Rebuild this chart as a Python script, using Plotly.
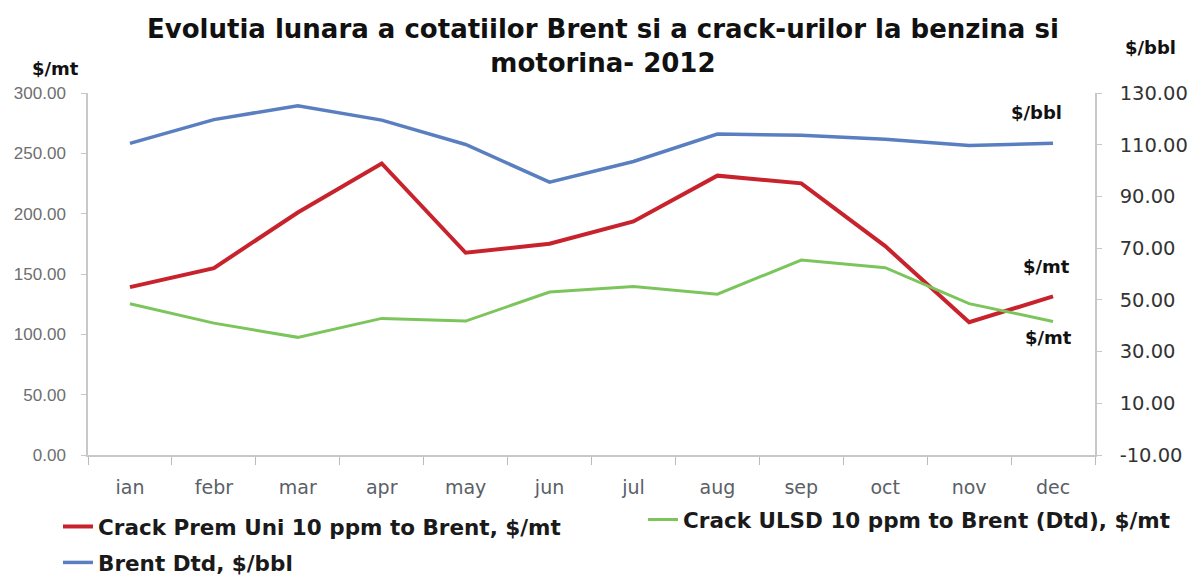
import plotly.graph_objects as go

months = ["ian", "febr", "mar", "apr", "may", "jun", "jul", "aug", "sep", "oct", "nov", "dec"]
crack_prem = [139.1, 154.9, 201.0, 241.6, 167.6, 175.1, 193.6, 231.5, 225.1, 173.1, 110.1, 131.4]
crack_ulsd = [125.4, 109.3, 97.5, 113.2, 111.0, 135.0, 139.7, 133.3, 161.5, 155.2, 125.4, 110.7]
brent = [110.5, 119.7, 125.1, 119.5, 110.1, 95.5, 103.5, 114.1, 113.7, 112.1, 109.7, 110.6]

left_ticks = [0, 50, 100, 150, 200, 250, 300]
right_ticks = [-10, 10, 30, 50, 70, 90, 110, 130]

RED = "#c8232c"
GREEN = "#7cc55c"
BLUE = "#5a7fc0"
BOLD = "DejaVu Sans"

fig = go.Figure()
fig.add_trace(go.Scatter(x=months, y=crack_prem, mode="lines", name="Crack Prem Uni 10 ppm to Brent, $/mt",
                         line=dict(color=RED, width=4), legend="legend", legendgroup="a"))
fig.add_trace(go.Scatter(x=months, y=crack_ulsd, mode="lines", name="Crack ULSD 10 ppm to Brent (Dtd), $/mt",
                         line=dict(color=GREEN, width=3), legend="legend2"))
fig.add_trace(go.Scatter(x=months, y=brent, mode="lines", name="Brent Dtd, $/bbl",
                         line=dict(color=BLUE, width=3.5), yaxis="y2", legend="legend", legendgroup="b"))

L, R, T, B = 88, 101, 93, 121
W, H = 1196, 576
pw, ph = W - L - R, H - T - B

def px(x):
    return (x - L) / pw

def py(y):
    return (H - B - y) / ph

leg_font = dict(family=BOLD, size=21.5, color="#1a1a1a", weight="bold")

fig.update_layout(
    width=W, height=H,
    margin=dict(l=L, r=R, t=T, b=B, autoexpand=False),
    paper_bgcolor="white", plot_bgcolor="white",
    showlegend=True,
    xaxis=dict(type="category", range=[-0.5, 11.5], tickson="boundaries", ticks="outside", ticklen=8,
               tickcolor="#bbbbbb", showline=True, linecolor="#c8c8c8", linewidth=1.5, showgrid=False,
               zeroline=False, ticklabelstandoff=14,
               tickfont=dict(family="DejaVu Sans", size=19, color="#5a6066")),
    yaxis=dict(range=[0, 300], tickvals=left_ticks, ticktext=[f"{v:.2f}" for v in left_ticks],
               ticks="outside", ticklen=5, tickcolor="#c8c8c8", showline=True, linecolor="#c8c8c8",
               linewidth=1.5, showgrid=False, zeroline=False, ticklabelstandoff=12,
               tickfont=dict(family="Liberation Sans Narrow, Liberation Sans", size=17, color="#6e6e6e")),
    yaxis2=dict(range=[-10, 130], tickvals=right_ticks, ticktext=[f"{v:.2f}" for v in right_ticks],
                overlaying="y", side="right", ticks="outside", ticklen=5, tickcolor="#c8c8c8",
                showline=True, linecolor="#c8c8c8", linewidth=1.5, showgrid=False, zeroline=False,
                ticklabelstandoff=14,
                tickfont=dict(family="DejaVu Sans", size=19.5, color="#333333")),
    legend=dict(orientation="v", x=px(58), xanchor="left", y=py(506), yanchor="top",
                font=leg_font, bgcolor="rgba(0,0,0,0)",
                tracegroupgap=5, traceorder="grouped"),
    legend2=dict(orientation="v", x=px(643), xanchor="left", y=py(499), yanchor="top",
                 font=leg_font, bgcolor="rgba(0,0,0,0)"),
)

# title
fig.add_annotation(text="<b>Evolutia lunara a cotatiilor Brent si a crack-urilor la benzina si<br>motorina- 2012</b>",
                   x=px(603), y=py(46), xref="paper", yref="paper", xanchor="center", yanchor="middle",
                   showarrow=False, align="center",
                   font=dict(family=BOLD, size=26, color="#111111"))

ann_font = dict(family=BOLD, size=18, color="#111111")
for text, x, y in [("<b>$/mt</b>", 55, 68), ("<b>$/bbl</b>", 1150, 48),
                   ("<b>$/bbl</b>", 1036, 112), ("<b>$/mt</b>", 1046, 266), ("<b>$/mt</b>", 1048, 337)]:
    fig.add_annotation(text=text, x=px(x), y=py(y), xref="paper", yref="paper",
                       xanchor="center", yanchor="middle", showarrow=False, font=ann_font)

fig.write_html("out.html", config={"displayModeBar": False},
               post_script="document.body.style.margin='0';")
